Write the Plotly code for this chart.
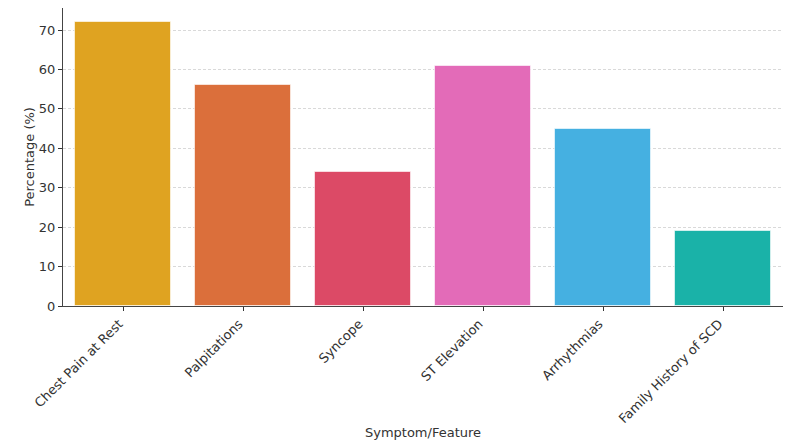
import plotly.graph_objects as go

# Symptom / feature prevalence
features = ["Chest Pain at Rest", "Palpitations", "Syncope", "ST Elevation",
            "Arrhythmias", "Family History of SCD"]
percentages = [72, 56, 34, 61, 45, 19]
bar_colors = ["#DFA321", "#DB6F3B", "#DC4A66", "#E36BB8", "#45B0E1", "#1AB2A8"]

fig = go.Figure(
    go.Bar(
        x=list(range(len(features))),
        y=percentages,
        width=0.8,
        marker=dict(color=bar_colors, line=dict(color="rgba(255,255,255,0.6)", width=1)),
        showlegend=False,
    )
)

font_family = "DejaVu Sans"
fig.update_layout(
    width=787,
    height=448,
    margin=dict(l=63, r=4, t=8, b=142),
    paper_bgcolor="white",
    plot_bgcolor="white",
    font=dict(family=font_family, size=13, color="#333333"),
    bargap=0,
)
fig.update_xaxes(
    range=[-0.5, 5.5],
    tickmode="array",
    tickvals=list(range(len(features))),
    ticktext=features,
    tickangle=-45,
    ticks="outside",
    ticklen=4,
    tickcolor="#333333",
    showline=True,
    linecolor="#444444",
    linewidth=1.3,
    showgrid=False,
    zeroline=False,
    ticklabelshift=-4,
    title=dict(text="Symptom/Feature", standoff=2, font=dict(size=13)),
)
fig.update_yaxes(
    range=[0, 75.6],
    tickvals=[0, 10, 20, 30, 40, 50, 60, 70],
    ticks="outside",
    ticklen=4,
    tickcolor="#333333",
    showline=True,
    linecolor="#444444",
    linewidth=1.3,
    showgrid=True,
    gridcolor="#D9D9D9",
    griddash="3px,2px",
    gridwidth=0.8,
    zeroline=False,
    title=dict(text="Percentage (%)", standoff=1, font=dict(size=13)),
)

fig.write_html("out.html")
